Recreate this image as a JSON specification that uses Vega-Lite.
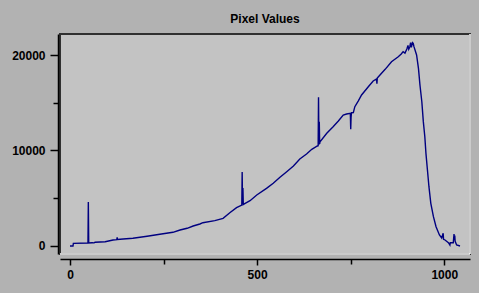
{
  "$schema": "https://vega.github.io/schema/vega-lite/v6.json",
  "width": 410,
  "height": 220,
  "autosize": {"type": "none"},
  "padding": {"left": 60, "top": 34, "right": 9, "bottom": 39},
  "background": "#b2b2b2",
  "config": {
    "view": {"fill": "#c3c3c3", "stroke": "#303030", "strokeWidth": 2},
    "axis": {
      "labelFont": "Liberation Sans",
      "labelFontSize": 12,
      "labelFontWeight": "bold",
      "labelColor": "#000000",
      "domainColor": "#000000",
      "tickColor": "#000000",
      "domainWidth": 1.5,
      "tickWidth": 1.5,
      "grid": false,
      "title": null
    }
  },
  "title": {
    "text": "Pixel Values",
    "anchor": "middle",
    "frame": "group",
    "offset": -2,
    "baseline": "alphabetic",
    "font": "Liberation Sans",
    "fontSize": 12,
    "fontWeight": "bold",
    "color": "#000000"
  },
  "datasets": {
    "pixels": [
      {"x": 0, "y": 0}, {"x": 8, "y": 0}, {"x": 9, "y": 280}, {"x": 48, "y": 315}, {"x": 49, "y": 4600}, {"x": 50, "y": 315},
      {"x": 59, "y": 345}, {"x": 64, "y": 330}, {"x": 67, "y": 387}, {"x": 94, "y": 450}, {"x": 115, "y": 628}, {"x": 125, "y": 660},
      {"x": 126, "y": 910}, {"x": 127, "y": 680}, {"x": 142, "y": 733}, {"x": 168, "y": 806}, {"x": 206, "y": 1016}, {"x": 240, "y": 1225},
      {"x": 275, "y": 1435}, {"x": 294, "y": 1675}, {"x": 313, "y": 1853}, {"x": 329, "y": 2094}, {"x": 347, "y": 2304}, {"x": 355, "y": 2440},
      {"x": 387, "y": 2650}, {"x": 409, "y": 2900}, {"x": 427, "y": 3487}, {"x": 445, "y": 4010}, {"x": 459, "y": 4290}, {"x": 460, "y": 7750},
      {"x": 461, "y": 4400}, {"x": 462, "y": 6070}, {"x": 463, "y": 4350}, {"x": 468, "y": 4470}, {"x": 481, "y": 4743}, {"x": 499, "y": 5340},
      {"x": 525, "y": 6040}, {"x": 543, "y": 6565}, {"x": 561, "y": 7190}, {"x": 579, "y": 7780}, {"x": 597, "y": 8377}, {"x": 614, "y": 9110},
      {"x": 632, "y": 9634}, {"x": 646, "y": 10126}, {"x": 661, "y": 10471}, {"x": 663, "y": 10500}, {"x": 664, "y": 15570}, {"x": 665, "y": 10600},
      {"x": 666, "y": 13000}, {"x": 667, "y": 10700}, {"x": 668, "y": 10920}, {"x": 686, "y": 11800}, {"x": 703, "y": 12490}, {"x": 717, "y": 13090},
      {"x": 730, "y": 13717}, {"x": 739, "y": 13820}, {"x": 749, "y": 13900}, {"x": 750, "y": 12220}, {"x": 751, "y": 13500}, {"x": 752, "y": 13950},
      {"x": 757, "y": 13960}, {"x": 761, "y": 14590}, {"x": 770, "y": 15180}, {"x": 779, "y": 15810}, {"x": 797, "y": 16680}, {"x": 810, "y": 17280},
      {"x": 819, "y": 17500}, {"x": 820, "y": 17000}, {"x": 821, "y": 17600}, {"x": 824, "y": 17730}, {"x": 842, "y": 18500}, {"x": 859, "y": 19300},
      {"x": 877, "y": 19820}, {"x": 885, "y": 20100}, {"x": 890, "y": 20350}, {"x": 895, "y": 20200}, {"x": 900, "y": 20630}, {"x": 903, "y": 21000},
      {"x": 905, "y": 20600}, {"x": 908, "y": 20870}, {"x": 910, "y": 21300}, {"x": 912, "y": 20800}, {"x": 915, "y": 21300}, {"x": 917, "y": 21230},
      {"x": 919, "y": 20870}, {"x": 926, "y": 20000}, {"x": 931, "y": 18600}, {"x": 935, "y": 16860}, {"x": 940, "y": 15110}, {"x": 944, "y": 13020},
      {"x": 948, "y": 11445}, {"x": 951, "y": 9700}, {"x": 955, "y": 7960}, {"x": 959, "y": 6210}, {"x": 964, "y": 4470}, {"x": 971, "y": 3070},
      {"x": 978, "y": 2020}, {"x": 987, "y": 1150}, {"x": 993, "y": 840}, {"x": 997, "y": 1330}, {"x": 998, "y": 700}, {"x": 1002, "y": 630},
      {"x": 1011, "y": 345}, {"x": 1015, "y": 105}, {"x": 1016, "y": 345}, {"x": 1024, "y": 345}, {"x": 1026, "y": 1256}, {"x": 1027, "y": 600},
      {"x": 1028, "y": 1100}, {"x": 1029, "y": 500}, {"x": 1033, "y": 105}, {"x": 1042, "y": 0}
    ]
  },
  "layer": [
    {
      "data": {"name": "pixels"},
      "mark": {"type": "line", "color": "#000080", "strokeWidth": 1.4, "clip": true},
      "encoding": {
        "x": {
          "field": "x", "type": "quantitative",
          "scale": {"domain": [-26.7, 1068.7], "nice": false, "zero": false},
          "axis": {"orient": "bottom", "values": [0, 500, 1000], "offset": 5, "tickSize": 6, "labelPadding": 4, "format": "d"}
        },
        "y": {
          "field": "y", "type": "quantitative",
          "scale": {"domain": [-838, 22199], "nice": false, "zero": false},
          "axis": {"orient": "left", "values": [0, 10000, 20000], "offset": 2, "tickSize": 8, "labelPadding": 5, "format": "d"}
        }
      }
    },
    {
      "data": {"values": [{}]},
      "mark": {"type": "rule", "color": "#ffffff", "strokeWidth": 1.5},
      "encoding": {
        "x": {
          "datum": 1068.7, "type": "quantitative",
          "scale": {"domain": [-26.7, 1068.7], "nice": false, "zero": false},
          "axis": {"orient": "bottom", "values": [250, 750], "offset": 5, "tickSize": 5, "domain": false, "labels": false}
        }
      }
    },
    {
      "data": {"values": [{}]},
      "mark": {"type": "rule", "color": "#ffffff", "strokeWidth": 1.5},
      "encoding": {
        "y": {
          "datum": -838, "type": "quantitative",
          "scale": {"domain": [-838, 22199], "nice": false, "zero": false},
          "axis": {"orient": "left", "values": [5000, 15000], "offset": 2, "tickSize": 5, "domain": false, "labels": false}
        }
      }
    }
  ],
  "resolve": {"axis": {"x": "independent", "y": "independent"}}
}
